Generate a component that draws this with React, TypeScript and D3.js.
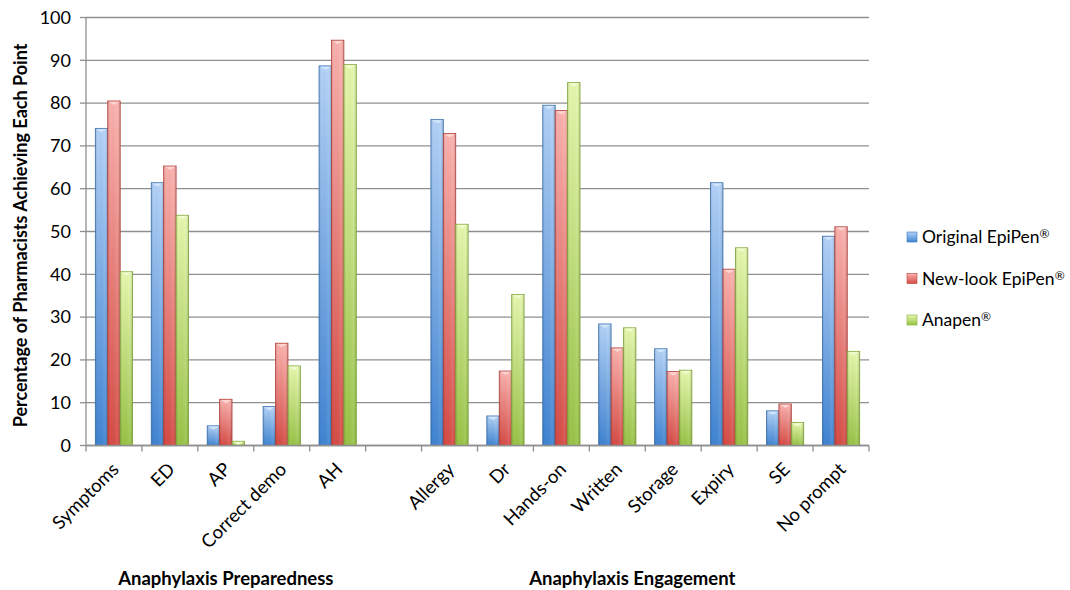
import React from "react";
import * as d3 from "d3";

const categories = ["Symptoms", "ED", "AP", "Correct demo", "AH", "", "Allergy", "Dr", "Hands-on", "Written", "Storage", "Expiry", "SE", "No prompt"];
const originalEpiPen = [74.1, 61.4, 4.6, 9.1, 88.7, null, 76.2, 6.9, 79.5, 28.4, 22.6, 61.4, 8.1, 48.9];
const newLookEpiPen = [80.5, 65.3, 10.8, 23.9, 94.7, null, 72.9, 17.4, 78.3, 22.8, 17.3, 41.2, 9.7, 51.1];
const anapen = [40.6, 53.8, 1.0, 18.6, 89.0, null, 51.7, 35.3, 84.8, 27.5, 17.6, 46.2, 5.4, 22.0];
const seriesNames = ["Original EpiPen", "New-look EpiPen", "Anapen"];
const yTicks = [0, 10, 20, 30, 40, 50, 60, 70, 80, 90, 100];
const groups = [
  { label: "Anaphylaxis Preparedness", from: 0, to: 4 },
  { label: "Anaphylaxis Engagement", from: 6, to: 13 },
];
const yTitle = "Percentage of Pharmacists Achieving Each Point";

const palette = [
  { light: "#b3d2f7", dark: "#3f84d3", stroke: "#3a73b5", bevel: "#d6e8fc" },
  { light: "#fbb2ae", dark: "#d64b45", stroke: "#b8413c", bevel: "#fdd8d6" },
  { light: "#e6f8ad", dark: "#98c346", stroke: "#86ab3e", bevel: "#f2fcd6" },
];

export default function App() {
  const W = 1070, H = 590;
  const left = 86, right = 869, top = 17.5, bottom = 445.5;
  const font = "Lato, 'Open Sans', sans-serif";
  const x = d3.scaleBand<number>().domain(d3.range(categories.length)).range([left, right]).paddingInner(0).paddingOuter(0);
  const slot = x.bandwidth();
  const barW = slot / 4.5;
  const y = d3.scaleLinear().domain([0, 100]).range([bottom, top]);
  const series = [originalEpiPen, newLookEpiPen, anapen];

  return (
    <svg width={W} height={H} style={{ position: "absolute", left: 0, top: 0, background: "#fff" }} fontFamily={font}>
      <defs>
        {palette.map((p, i) => (
          <linearGradient key={i} id={`g${i}`} x1="0" y1="0" x2="0" y2="1">
            <stop offset="0%" stopColor={p.light} />
            <stop offset="100%" stopColor={p.dark} />
          </linearGradient>
        ))}
        {palette.map((p, i) => (
          <linearGradient key={"h" + i} id={`h${i}`} x1="0" y1="0" x2="1" y2="0">
            <stop offset="0%" stopColor="#000" stopOpacity={0.12} />
            <stop offset="20%" stopColor="#000" stopOpacity={0} />
            <stop offset="75%" stopColor="#fff" stopOpacity={0.08} />
            <stop offset="100%" stopColor="#000" stopOpacity={0.15} />
          </linearGradient>
        ))}
      </defs>
      {/* gridlines */}
      {yTicks.map((t) => (
        <line key={t} x1={left} x2={right} y1={y(t)} y2={y(t)} stroke="#8f8f8f" strokeWidth={1.3} />
      ))}
      {/* y axis */}
      <line x1={left} x2={left} y1={top} y2={bottom} stroke="#8f8f8f" strokeWidth={1.3} />
      {yTicks.map((t) => (
        <g key={"yt" + t}>
          <line x1={left - 6} x2={left} y1={y(t)} y2={y(t)} stroke="#8f8f8f" strokeWidth={1.3} />
          <text x={left - 15} y={y(t)} dy="0.35em" textAnchor="end" fontSize={18} fill="#000">{t}</text>
        </g>
      ))}
      {/* x ticks */}
      {d3.range(categories.length + 1).map((i) => {
        const xx = left + i * slot;
        return <line key={"xt" + i} x1={xx} x2={xx} y1={bottom} y2={bottom + 6} stroke="#8f8f8f" strokeWidth={1.3} />;
      })}
      {/* bars */}
      {series.map((vals, s) =>
        vals.map((v, i) => {
          if (v == null) return null;
          const bx = (x(i) as number) + barW * 0.75 + s * barW;
          const by = y(v);
          const bh = bottom - by;
          const p = palette[s];
          const bev = Math.min(4, bh);
          return (
            <g key={`b${s}-${i}`}>
              <rect x={bx} y={by} width={barW} height={bh} fill={`url(#g${s})`} stroke={p.stroke} strokeWidth={0.8} />
              <rect x={bx} y={by} width={barW} height={bh} fill={`url(#h${s})`} />
              <polygon points={`${bx + 1},${by + 0.8} ${bx + barW - 1},${by + 0.8} ${bx + barW / 2},${by + bev}`} fill={p.bevel} opacity={0.9} />
            </g>
          );
        })
      )}
      {/* bottom axis line */}
      <line x1={left} x2={right} y1={bottom} y2={bottom} stroke="#8f8f8f" strokeWidth={1.3} />
      {/* category labels */}
      {categories.map((c, i) => {
        if (!c) return null;
        const cx = (x(i) as number) + slot / 2 + 6;
        const cy = bottom + 25;
        return (
          <text key={"cl" + i} x={cx} y={cy} textAnchor="end" fontSize={18.5} fill="#000" transform={`rotate(-45 ${cx} ${cy})`}>
            {c}
          </text>
        );
      })}
      {/* group labels */}
      {groups.map((g, i) => {
        const gx = ((x(g.from) as number) + (x(g.to) as number) + slot) / 2 - (i === 1 ? 13 : 0);
        return (
          <text key={"g" + i} x={gx} y={585} textAnchor="middle" fontSize={18.5} fontWeight="bold" fill="#000">
            {g.label}
          </text>
        );
      })}
      {/* y title */}
      <text transform={`translate(27 ${(top + bottom) / 2 + 4}) rotate(-90)`} textAnchor="middle" fontSize={18} fontWeight="bold" fill="#000">
        {yTitle}
      </text>
      {/* legend */}
      {seriesNames.map((n, i) => {
        const ly = 237 + i * 41.5;
        const p = palette[i];
        return (
          <g key={"l" + i}>
            <rect x={907} y={ly - 5} width={10} height={10} fill={`url(#g${i})`} stroke={p.stroke} strokeWidth={0.6} />
            <text x={922} y={ly} dy="0.35em" fontSize={17.5} fill="#000">
              {n}
              <tspan fontSize={12} dy={-5}>®</tspan>
            </text>
          </g>
        );
      })}
    </svg>
  );
}
